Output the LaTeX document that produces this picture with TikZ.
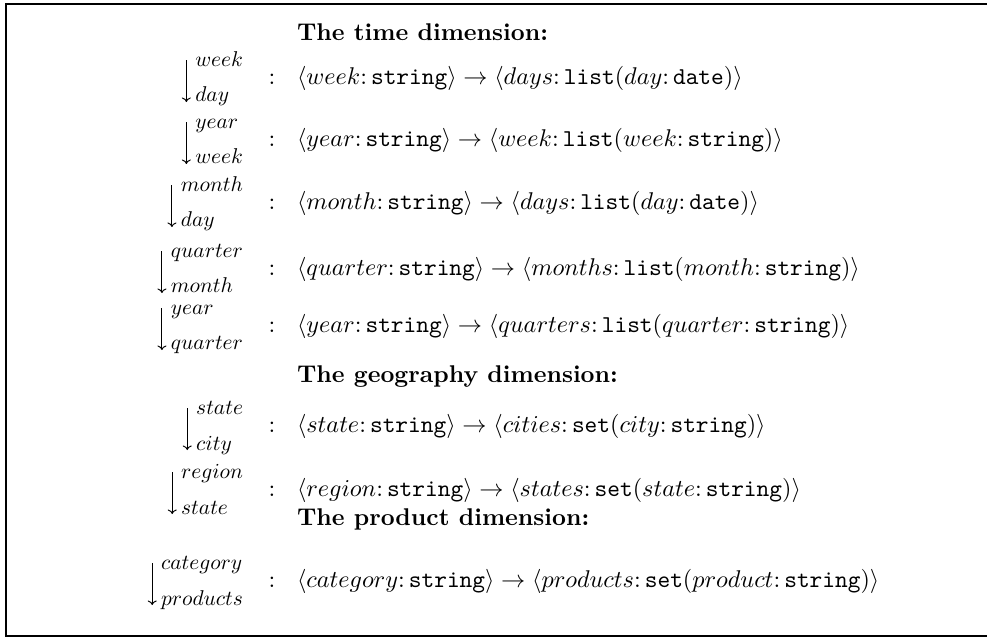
\documentclass[tikz,border=0pt]{standalone}
\usetikzlibrary{arrows.meta,calc}

% colon between a name and its type
\newcommand\tcol{\mathpunct{:}}
\newcommand\tstr{\texttt{string}}

% one drill-down row: the two levels stacked and left aligned, a downward
% arrow in front of them, then the colon and the mapping
% #1 id, #2 baseline y, #3 upper level, #4 lower level, #5 mapping
\newcommand\hierrow[5]{%
  \node[lab] (#1s) at (243, #2-18)
    {\begin{tabular}[t]{@{}l@{}}$#3$\\[4.82pt]$#4$\end{tabular}};
  \path let \p1 = (#1s.west) in
    coordinate (#1t) at (\x1-9pt, -#2pt+24pt)
    coordinate (#1b) at (\x1-9pt, -#2pt-18pt);
  \draw[drill] (#1t) -- (#1b);
  \node[sepcol] (#1c) at (272, #2) {$:$};
  \node[rowtxt] (#1m) at (297, #2) {$#5$};
}

\begin{document}
\begin{tikzpicture}[x=1pt, y=-1pt,
  txt/.style={scale=2.42, inner sep=0pt, outer sep=0pt},
  hdr/.style={txt, anchor=base west, font=\bfseries},
  rowtxt/.style={txt, anchor=base west},
  sepcol/.style={txt, anchor=base},
  lab/.style={scale=2.14, inner sep=0pt, outer sep=0pt, anchor=base east},
  drill/.style={line width=0.97pt, -{Computer Modern Rightarrow[length=4.5pt, width=9pt]}},
  frame/.style={line width=2pt}]
\useasboundingbox (0,0) rectangle (987,637);

% outer frame
\draw[frame] (992,4.3) -- (6,4.3) -- (6,635.5) -- (992,635.5);

% time dimension
\node[hdr] (h1) at (297,40) {The time dimension:};
\hierrow{r1}{84}{week}{day}{\langle week\tcol\tstr\rangle \rightarrow \langle days\tcol\texttt{list}(day\tcol\texttt{date})\rangle}
\hierrow{r2}{146}{year}{week}{\langle year\tcol\tstr\rangle \rightarrow \langle week\tcol\texttt{list}(week\tcol\tstr)\rangle}
\hierrow{r3}{209}{month}{day}{\langle month\tcol\tstr\rangle \rightarrow \langle days\tcol\texttt{list}(day\tcol\texttt{date})\rangle}
\hierrow{r4}{275}{quarter}{month}{\langle quarter\tcol\tstr\rangle \rightarrow \langle months\tcol\texttt{list}(month\tcol\tstr)\rangle}
\hierrow{r5}{332}{year}{quarter}{\langle year\tcol\tstr\rangle \rightarrow \langle quarters\tcol\texttt{list}(quarter\tcol\tstr)\rangle}

% geography dimension
\node[hdr] (h2) at (297,382) {The geography dimension:};
\hierrow{r6}{432}{state}{city}{\langle state\tcol\tstr\rangle \rightarrow \langle cities\tcol\texttt{set}(city\tcol\tstr)\rangle}
\hierrow{r7}{496}{region}{state}{\langle region\tcol\tstr\rangle \rightarrow \langle states\tcol\texttt{set}(state\tcol\tstr)\rangle}

% product dimension
\node[hdr] (h3) at (297,525) {The product dimension:};
\hierrow{r8}{587}{category}{products}{\langle category\tcol\tstr\rangle \rightarrow \langle products\tcol\texttt{set}(product\tcol\tstr)\rangle}
\end{tikzpicture}
\end{document}
